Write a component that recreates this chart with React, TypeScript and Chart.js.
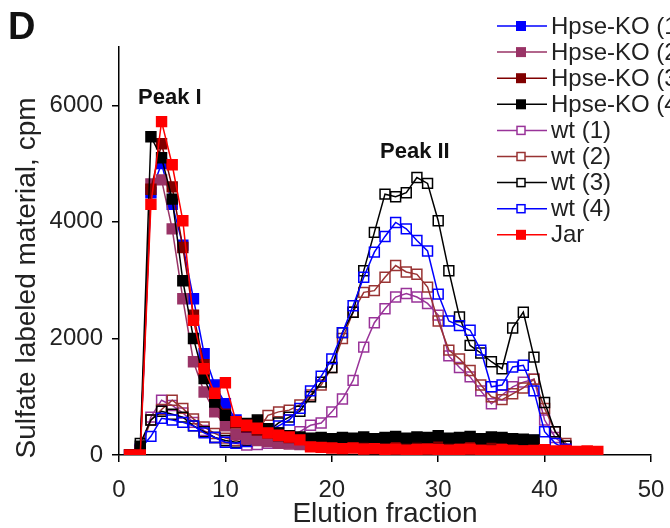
import React, { useEffect, useRef } from 'react';
import { Chart, registerables } from 'chart.js';

Chart.register(...registerables);

const FONT = '"Liberation Sans", Arial, sans-serif';

const fractions = [1, 2, 3, 4, 5, 6, 7, 8, 9, 10, 11, 12, 13, 14, 15, 16, 17, 18, 19, 20, 21, 22, 23, 24, 25, 26, 27, 28, 29, 30, 31, 32, 33, 34, 35, 36, 37, 38, 39, 40, 41, 42, 43, 44, 45];
const xTicks = [0, 10, 20, 30, 40, 50];
const yTicks = [0, 2000, 4000, 6000];

const hpseKO1 = [0, 50, 4500, 5000, 4300, 3600, 2680, 1740, 1200, 880, 600, 460, 400, 350, 300, 270, 250, 240, 260, 250, 240, 230, 250, 240, 220, 250, 240, 230, 250, 260, 240, 230, 250, 240, 260, 250, 240, 230, 250, 0];
const hpseKO2 = [0, 50, 4650, 4720, 3880, 2680, 1600, 1080, 740, 500, 350, 280, 250, 230, 200, 190, 180, 170, 180, 190, 170, 180, 190, 180, 170, 180, 170, 190, 180, 170, 180, 190, 170, 180, 170, 180, 190, 170, 150, 0];
const hpseKO3 = [0, 80, 4560, 5340, 4600, 3560, 2400, 1550, 1000, 700, 550, 480, 430, 380, 330, 300, 280, 260, 250, 240, 260, 250, 230, 240, 250, 260, 240, 250, 230, 240, 250, 260, 240, 230, 250, 240, 230, 220, 200, 30];
const hpseKO4 = [0, 150, 5460, 5100, 4390, 2990, 2000, 1310, 910, 680, 560, 540, 600, 450, 380, 330, 310, 290, 300, 280, 300, 290, 310, 280, 300, 320, 290, 310, 300, 330, 290, 300, 320, 280, 310, 300, 280, 270, 260, 40];
const wt1 = [0, 100, 650, 940, 850, 720, 560, 420, 300, 220, 200, 170, 180, 200, 250, 300, 400, 510, 550, 740, 960, 1280, 1850, 2270, 2510, 2710, 2770, 2710, 2600, 2400, 1700, 1500, 1340, 1100, 880, 1030, 1170, 1250, 1300, 600, 300, 150, 50];
const wt2 = [0, 80, 600, 780, 940, 800, 620, 480, 370, 290, 250, 300, 400, 680, 740, 770, 860, 1030, 1200, 1500, 2000, 2450, 2790, 2820, 3050, 3250, 3140, 3100, 2880, 2300, 1800, 1650, 1450, 1200, 1000, 950, 1050, 1150, 1300, 800, 400, 200, 50];
const wt3 = [0, 200, 600, 750, 700, 650, 500, 400, 300, 250, 220, 250, 300, 400, 550, 650, 750, 1000, 1250, 1500, 2100, 2450, 3160, 3820, 4475, 4430, 4500, 4760, 4660, 4020, 3160, 2370, 1880, 1750, 1600, 1480, 2180, 2450, 1680, 900, 400, 150, 50];
const wt4 = [0, 100, 320, 630, 600, 560, 500, 380, 300, 220, 200, 230, 300, 400, 500, 600, 800, 1100, 1350, 1650, 2100, 2560, 3050, 3480, 3750, 3990, 3880, 3680, 3500, 2760, 2300, 2220, 2140, 1800, 1170, 1200, 1510, 1540, 1100, 400, 200, 100, 30];
const jar = [0, 0, 4300, 5720, 4980, 4020, 2310, 1480, 1060, 1240, 570, 510, 460, 380, 340, 310, 260, 140, 130, 120, 110, 120, 100, 110, 90, 100, 80, 90, 100, 90, 80, 90, 100, 80, 70, 90, 80, 70, 80, 90, 70, 80, 60, 70, 60];

const seriesNames = ['Hpse-KO (1)', 'Hpse-KO (2)', 'Hpse-KO (3)', 'Hpse-KO (4)', 'wt (1)', 'wt (2)', 'wt (3)', 'wt (4)', 'Jar'];
const seriesValues = [hpseKO1, hpseKO2, hpseKO3, hpseKO4, wt1, wt2, wt3, wt4, jar];
const seriesColors = ['#0000ff', '#993366', '#800000', '#000000', '#993399', '#993333', '#000000', '#0000ff', '#ff0000'];
const seriesFilled = [true, true, true, true, false, false, false, false, true];
const seriesOrder = [4, 3, 2, 1, 8, 7, 6, 5, 0];

const annotationPlugin = {
  id: 'annotations',
  afterDraw(chart: any) {
    const ctx = chart.ctx;
    ctx.save();
    ctx.fillStyle = '#111';
    ctx.textBaseline = 'alphabetic';
    ctx.textAlign = 'left';
    ctx.font = `bold 38px ${FONT}`;
    ctx.fillText('D', 8, 39);
    ctx.font = `bold 22px ${FONT}`;
    ctx.fillText('Peak I', 138, 104);
    ctx.fillText('Peak II', 380, 158);

    // y axis title
    ctx.save();
    ctx.translate(27, 278);
    ctx.rotate(-Math.PI / 2);
    ctx.textAlign = 'center';
    ctx.textBaseline = 'middle';
    ctx.fillStyle = '#222';
    ctx.font = `28px ${FONT}`;
    ctx.fillText('Sulfate labeled material, cpm', 0, 0);
    ctx.restore();

    // legend
    const y0 = 26;
    const dy = 26.1;
    seriesNames.forEach((name, i) => {
      const y = y0 + i * dy;
      const c = seriesColors[i];
      ctx.strokeStyle = c;
      ctx.lineWidth = 1.5;
      ctx.beginPath();
      ctx.moveTo(497, y);
      ctx.lineTo(547, y);
      ctx.stroke();
      if (seriesFilled[i]) {
        ctx.fillStyle = c;
        ctx.fillRect(516, y - 5, 10, 10);
      } else {
        ctx.fillStyle = '#fff';
        ctx.fillRect(517, y - 4, 8, 8);
        ctx.strokeRect(517, y - 4, 8, 8);
      }
      ctx.fillStyle = '#222';
      ctx.font = `24px ${FONT}`;
      ctx.textBaseline = 'middle';
      ctx.textAlign = 'left';
      ctx.fillText(name, 551, y + 1);
    });
    ctx.restore();
  },
};

export default function App() {
  const ref = useRef<HTMLCanvasElement | null>(null);

  useEffect(() => {
    if (!ref.current) return;
    const datasets = seriesNames.map((name, i) => ({
      label: name,
      data: seriesValues[i].map((v, j) => ({ x: fractions[j], y: v })),
      borderColor: seriesColors[i],
      backgroundColor: seriesFilled[i] ? seriesColors[i] : 'rgba(0,0,0,0)',
      pointBackgroundColor: seriesFilled[i] ? seriesColors[i] : 'rgba(0,0,0,0)',
      pointBorderColor: seriesColors[i],
      pointStyle: 'rect',
      pointRadius: 7,
      pointBorderWidth: 1.5,
      borderWidth: 1.5,
      tension: 0,
      fill: false,
      order: seriesOrder[i],
    }));

    const chart = new Chart(ref.current, {
      type: 'line',
      data: { datasets } as any,
      options: {
        animation: false,
        responsive: false,
        devicePixelRatio: 1,
        layout: { padding: { top: 47, right: 19, left: 0, bottom: 0 } },
        plugins: { legend: { display: false }, tooltip: { enabled: false } },
        scales: {
          x: {
            type: 'linear',
            min: 0,
            max: 50,
            afterBuildTicks: (s: any) => {
              s.ticks = xTicks.map((v) => ({ value: v }));
            },
            afterFit: (s: any) => {
              s.height = 73;
              s.paddingLeft = 0;
              s.paddingRight = 0;
            },
            grid: { drawOnChartArea: false, drawTicks: true, tickLength: 7, color: '#000', lineWidth: 1.5 },
            border: { display: true, color: '#000', width: 1.5 },
            ticks: {
              font: { family: FONT, size: 24 },
              color: '#222',
              padding: 14,
              maxRotation: 0,
              autoSkip: false,
              callback: (v: any) => String(v),
            },
            title: {
              display: true,
              text: 'Elution fraction',
              color: '#222',
              font: { family: FONT, size: 28, lineHeight: 1 },
              padding: { top: 0, bottom: 0 },
            },
          },
          y: {
            type: 'linear',
            min: 0,
            max: 7000,
            afterBuildTicks: (s: any) => {
              s.ticks = yTicks.map((v) => ({ value: v }));
            },
            afterFit: (s: any) => {
              s.width = 119;
              s.paddingTop = 0;
              s.paddingBottom = 0;
            },
            grid: { drawOnChartArea: false, drawTicks: true, tickLength: 7, color: '#000', lineWidth: 1.5 },
            border: { display: true, color: '#000', width: 1.5 },
            ticks: {
              font: { family: FONT, size: 24 },
              color: '#222',
              padding: 9,
              autoSkip: false,
              callback: (v: any) => String(v),
            },
            title: { display: false },
          },
        },
      } as any,
      plugins: [annotationPlugin],
    });
    return () => chart.destroy();
  }, []);

  return (
    <div style={{ position: 'absolute', left: 0, top: 0, width: 670, height: 528, background: '#fff' }}>
      <canvas ref={ref} width={670} height={528} style={{ width: 670, height: 528, display: 'block' }} />
    </div>
  );
}
